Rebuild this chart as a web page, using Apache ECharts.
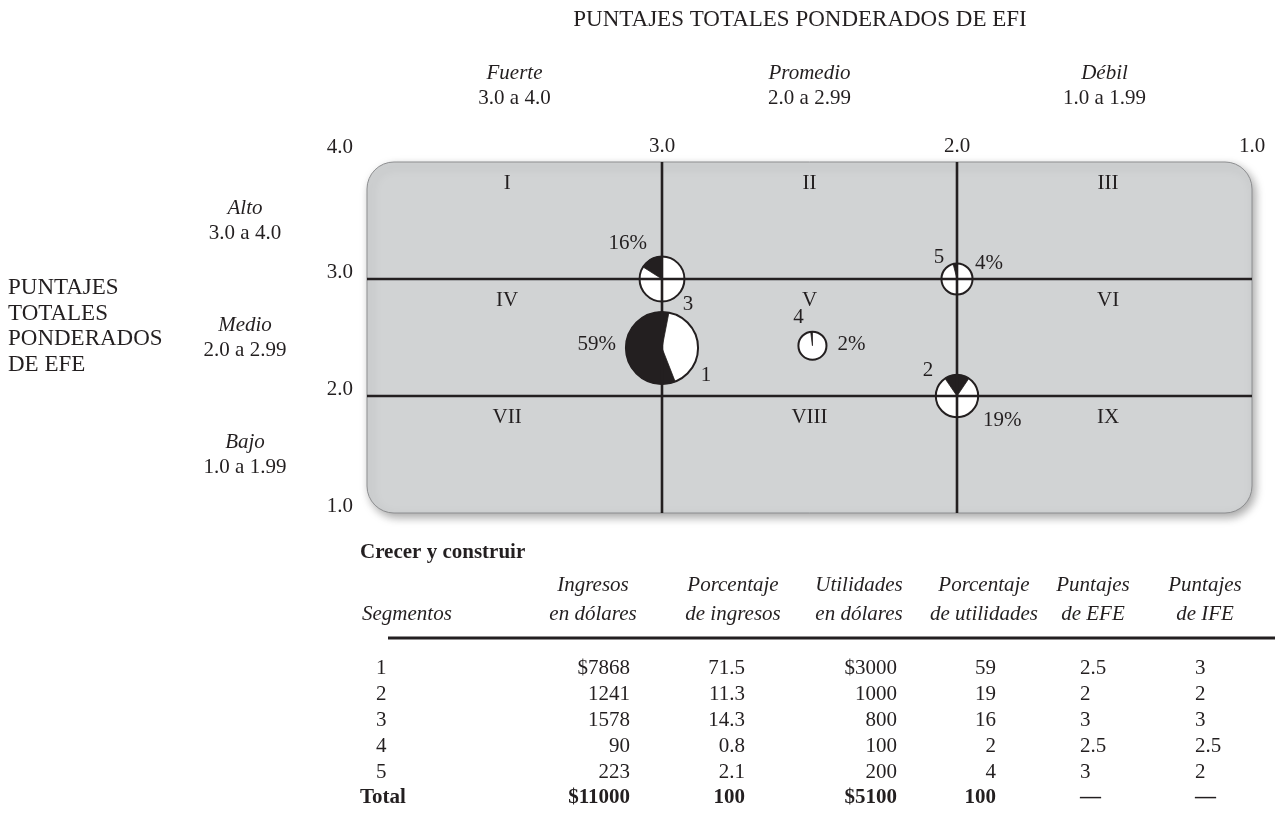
<!DOCTYPE html>
<html><head><meta charset="utf-8">
<script src="https://cdn.jsdelivr.net/npm/echarts@6/dist/echarts.min.js"></script>
<style>html,body{margin:0;padding:0;background:#fff}#c{width:1275px;height:822px}</style>
</head><body><div id="c"></div>
<script>
// ---------- DATA ----------
const segments = ['1', '2', '3', '4', '5'];
const revenue = [7868, 1241, 1578, 90, 223];
const revenuePct = [71.5, 11.3, 14.3, 0.8, 2.1];
const profit = [3000, 1000, 800, 100, 200];
const profitPct = [59, 19, 16, 2, 4];
const efeScores = ['2.5', '2', '3', '2.5', '3'];
const ifeScores = ['3', '2', '3', '2.5', '2'];
const totals = ['$11000', '100', '$5100', '100', '—', '—'];
// bubble centres as plotted in the picture (IFE on x, EFE on y)
const plotIFE = [3.0, 2.0, 3.0, 2.49, 2.0];
const plotEFE = [2.41, 2.0, 3.0, 2.43, 3.0];
const axisMin = 1, axisMax = 4;
const dividers = [3, 2];
const cellNumerals = ['I', 'II', 'III', 'IV', 'V', 'VI', 'VII', 'VIII', 'IX'];
const colHeads = [['Fuerte', '3.0 a 4.0'], ['Promedio', '2.0 a 2.99'], ['Débil', '1.0 a 1.99']];
const rowHeads = [['Alto', '3.0 a 4.0'], ['Medio', '2.0 a 2.99'], ['Bajo', '1.0 a 1.99']];
const titleTop = 'PUNTAJES TOTALES PONDERADOS DE EFI';
const titleLeft = ['PUNTAJES', 'TOTALES', 'PONDERADOS', 'DE EFE'];
const tableTitle = 'Crecer y construir';
const tableHeads = [['', 'Segmentos'], ['Ingresos', 'en dólares'], ['Porcentaje', 'de ingresos'],
  ['Utilidades', 'en dólares'], ['Porcentaje', 'de utilidades'], ['Puntajes', 'de EFE'], ['Puntajes', 'de IFE']];

// ---------- STYLE ----------
const INK = '#231f20';
const FF = '"Liberation Serif", "DejaVu Serif", serif';
const FS = 21;
const font = (s, size) => (s ? s + ' ' : '') + (size || FS) + 'px ' + FF;
// wedge end angle (deg clockwise from 12 o'clock) and label offsets for each bubble
const wedgeEnd = [11, 34, 0, 0, 0];
const labelPos = [
  { p: [-46, -4, 'right'], n: [44, 27, 'center'] },
  { p: [26, 24, 'left'], n: [-29, -26, 'center'] },
  { p: [-15, -36, 'right'], n: [26, 25, 'center'] },
  { p: [25, -1, 'left'], n: [-14, -28, 'center'] },
  { p: [18, -16, 'left'], n: [-18, -22, 'center'] }
];
const radiusOf = (rev) => 11.4 + 0.278 * Math.sqrt(rev);
const numeralShift = [-0.025, 0, 0.012];

function txt(x, y, text, f, align, va) {
  return {
    type: 'text', x: x, y: y, z: 10,
    style: { text: text, font: f, fill: INK, align: align || 'center', verticalAlign: va || 'middle',
      textAlign: align || 'center', textVerticalAlign: va || 'middle' }
  };
}

const bubbleData = segments.map((s, i) => [plotIFE[i], plotEFE[i], revenue[i], profitPct[i]]);

const chart = echarts.init(document.getElementById('c'));
const option = {
  animation: false,
  grid: { left: 367, right: 23, top: 162, bottom: 309 },
  xAxis: {
    type: 'value', position: 'top', inverse: true, min: axisMin, max: axisMax, interval: 1,
    axisLine: { show: false }, axisTick: { show: false }, splitLine: { show: false },
    axisLabel: { margin: 5, fontFamily: FF, fontSize: FS, color: INK,
      formatter: (v) => (v === axisMax ? '' : v.toFixed(1)) }
  },
  yAxis: {
    type: 'value', min: axisMin, max: axisMax, interval: 1,
    axisLine: { show: false }, axisTick: { show: false }, splitLine: { show: false },
    axisLabel: { margin: 14, fontFamily: FF, fontSize: FS, color: INK, verticalAlign: 'bottom', lineHeight: 14,
      formatter: (v) => (v === axisMax ? '{t|' + v.toFixed(1) + '}' : v.toFixed(1)),
      rich: { t: { fontFamily: FF, fontSize: FS, color: INK, lineHeight: 30 } } }
  },
  series: [
    { // rounded panel
      type: 'custom', z: 1, silent: true,
      data: [[axisMax, axisMax, axisMin, axisMin]], encode: { x: [0, 2], y: [1, 3] },
      renderItem: function (params, api) {
        const a = api.coord([api.value(0), api.value(1)]);
        const b = api.coord([api.value(2), api.value(3)]);
        return {
          type: 'rect', shape: { x: a[0], y: a[1], width: b[0] - a[0], height: b[1] - a[1], r: 27 },
          style: { fill: '#d1d3d4', stroke: '#8d8e90', lineWidth: 1,
            shadowBlur: 10, shadowOffsetX: 3, shadowOffsetY: 4, shadowColor: 'rgba(0,0,0,0.35)' }
        };
      }
    },
    { // bubbles
      type: 'custom', z: 2, silent: true, data: bubbleData, encode: { x: 0, y: 1 },
      renderItem: function (params, api) {
        const i = params.dataIndex;
        const c = api.coord([api.value(0), api.value(1)]);
        const r = radiusOf(api.value(2));
        const end = wedgeEnd[i];
        const start = end - api.value(3) * 3.6;
        return {
          type: 'group', children: [
            { type: 'circle', shape: { cx: c[0], cy: c[1], r: r }, style: { fill: '#fff' } },
            { type: 'sector', shape: { cx: c[0], cy: c[1], r: r, r0: 0,
                startAngle: (start - 90) * Math.PI / 180, endAngle: (end - 90) * Math.PI / 180, clockwise: true },
              style: { fill: INK, stroke: INK, lineWidth: 0.8 } },
            { type: 'circle', shape: { cx: c[0], cy: c[1], r: r }, style: { fill: null, stroke: INK, lineWidth: 2 } }
          ]
        };
      }
    },
    { // dividing lines
      type: 'custom', z: 3, silent: true,
      data: dividers.map(v => [v, axisMax, v, axisMin]).concat(dividers.map(v => [axisMax, v, axisMin, v])),
      encode: { x: [0, 2], y: [1, 3] },
      renderItem: function (params, api) {
        const a = api.coord([api.value(0), api.value(1)]);
        const b = api.coord([api.value(2), api.value(3)]);
        return { type: 'line', shape: { x1: a[0], y1: a[1], x2: b[0], y2: b[1] }, style: { stroke: INK, lineWidth: 2.6 } };
      }
    },
    { // cell numerals
      type: 'custom', z: 4, silent: true,
      data: cellNumerals.map((t, i) => [axisMax - (i % 3) - 0.5 - numeralShift[i % 3], axisMax - Math.floor(i / 3) - 0.18]),
      encode: { x: 0, y: 1 },
      renderItem: function (params, api) {
        const c = api.coord([api.value(0), api.value(1)]);
        return txt(c[0], c[1], cellNumerals[params.dataIndex], font(''));
      }
    },
    { // bubble labels
      type: 'custom', z: 4, silent: true, data: bubbleData, encode: { x: 0, y: 1 },
      renderItem: function (params, api) {
        const i = params.dataIndex;
        const c = api.coord([api.value(0), api.value(1)]);
        const L = labelPos[i];
        return {
          type: 'group', children: [
            txt(c[0] + L.p[0], c[1] + L.p[1], api.value(3) + '%', font(''), L.p[2]),
            txt(c[0] + L.n[0], c[1] + L.n[1], segments[i], font(''), L.n[2])
          ]
        };
      }
    }
  ]
};
chart.setOption(option);

// ---------- annotation texts and table ----------
const g = [];
g.push(txt(800, 20, titleTop, font('', 23)));
colHeads.forEach((h, j) => {
  const x = chart.convertToPixel({ xAxisIndex: 0 }, axisMax - j - 0.5);
  g.push(txt(x, 73, h[0], font('italic')));
  g.push(txt(x, 98, h[1], font('')));
});
rowHeads.forEach((h, j) => {
  const y = chart.convertToPixel({ yAxisIndex: 0 }, axisMax - j - 0.5);
  g.push(txt(245, y - 12, h[0], font('italic')));
  g.push(txt(245, y + 13, h[1], font('')));
});
titleLeft.forEach((t, j) => g.push(txt(8, 288 + j * 25.5, t, font('', 23), 'left')));

// table
g.push(txt(360, 553, tableTitle, font('bold'), 'left'));
const headX = [362, 593, 733, 859, 984, 1093, 1205];
const headAlign = ['left', 'center', 'center', 'center', 'center', 'center', 'center'];
tableHeads.forEach((h, j) => {
  if (h[0]) g.push(txt(headX[j], 585, h[0], font('italic'), headAlign[j]));
  g.push(txt(headX[j], 614, h[1], font('italic'), headAlign[j]));
});
g.push({ type: 'line', z: 10, shape: { x1: 388, y1: 638, x2: 1275, y2: 638 }, style: { stroke: INK, lineWidth: 3 } });
const colX = [630, 745, 897, 996, 1080, 1195];
const colAlign = ['right', 'right', 'right', 'right', 'left', 'left'];
const rowY0 = 668, rowStep = 26;
segments.forEach((s, i) => {
  const y = rowY0 + i * rowStep;
  const cells = [
    (i === 0 ? '$' : '') + revenue[i],
    revenuePct[i].toFixed(1),
    (i === 0 ? '$' : '') + profit[i],
    String(profitPct[i]),
    efeScores[i],
    ifeScores[i]
  ];
  g.push(txt(376, y, s, font(''), 'left'));
  cells.forEach((c, j) => g.push(txt(colX[j], y, c, font(''), colAlign[j])));
});
const ty = rowY0 + segments.length * rowStep;
g.push(txt(360, ty, 'Total', font('bold'), 'left'));
totals.forEach((c, j) => g.push(txt(colX[j], ty, c, font('bold'), colAlign[j])));

chart.setOption({ graphic: { elements: g } });
</script>
</body></html>
